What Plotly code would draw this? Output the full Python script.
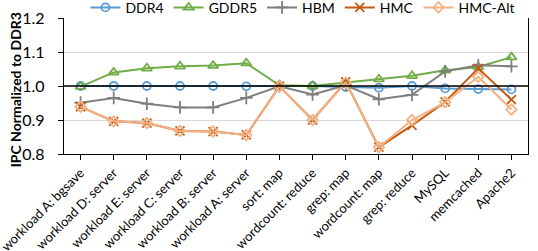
import plotly.graph_objects as go

categories = ["workload A: bgsave", "workload D: server", "workload E: server",
              "workload C: server", "workload B: server", "workload A: server",
              "sort: map", "wordcount: reduce", "grep: map", "wordcount: map",
              "grep: reduce", "MySQL", "memcached", "Apache2"]

ddr4 = [1.0, 1.0, 1.0, 1.0, 1.0, 0.999, 1.0, 1.0, 0.997, 0.995, 1.0, 0.993, 0.991, 0.99]
gddr5 = [0.998, 1.04, 1.052, 1.058, 1.06, 1.067, 1.002, 1.0, 1.01, 1.02, 1.03, 1.046, 1.056, 1.085]
hbm = [0.951, 0.965, 0.948, 0.937, 0.937, 0.965, 0.999, 0.975, 1.002, 0.961, 0.974, 1.043, 1.061, 1.058]
hmc = [0.939, 0.896, 0.891, 0.868, 0.866, 0.856, 0.999, 0.9, 1.012, 0.82, 0.884, 0.953, 1.052, 0.96]
hmc_alt = [0.939, 0.896, 0.891, 0.868, 0.866, 0.856, 0.999, 0.9, 1.01, 0.82, 0.9, 0.952, 1.027, 0.931]

y_ticks = [0.8, 0.9, 1.0, 1.1, 1.2]
y_tick_text = ["0.8", "0.9", "1.0", "1.1", "1.2"]

series = [
    ("DDR4", ddr4, "#5B9BD5", "circle-open", 8),
    ("GDDR5", gddr5, "#70AD47", "triangle-up-open", 9),
    ("HBM", hbm, "#7F7F7F", "cross-thin-open", 9),
    ("HMC", hmc, "#C55A11", "x-thin-open", 9),
    ("HMC-Alt", hmc_alt, "#F4B183", "diamond-open", 8),
]

FONT = "Lato"

fig = go.Figure()
for name, vals, color, sym, size in series:
    fig.add_trace(go.Scatter(
        x=list(range(len(categories))), y=vals, name=name, mode="lines+markers",
        line=dict(color=color, width=2),
        marker=dict(symbol=sym, size=size, color=color, line=dict(color=color, width=1.8)),
    ))

fig.add_shape(type="line", xref="paper", x0=0, x1=1, yref="y", y0=1.0, y1=1.0,
              line=dict(color="black", width=1.3), layer="above")

fig.update_layout(
    width=538, height=251,
    margin=dict(l=64, r=10, t=18, b=97, pad=0, autoexpand=False),
    paper_bgcolor="white", plot_bgcolor="white",
    font=dict(family=FONT, color="black"),
    showlegend=True,
    legend=dict(orientation="h", x=0.515, xanchor="center",
                y=1.075, yanchor="middle",
                font=dict(size=14, family=FONT), itemwidth=30,
                bgcolor="rgba(0,0,0,0)", tracegroupgap=0),
    xaxis=dict(
        tickmode="array", tickvals=list(range(len(categories))), ticktext=categories,
        tickangle=-45, range=[-0.5, len(categories) - 0.5], automargin=False,
        ticklabeloverflow="allow",
        showline=True, linecolor="black", linewidth=1.3, ticks="outside",
        ticklen=5, tickcolor="black", showgrid=False, zeroline=False,
        tickfont=dict(size=13, family=FONT),
    ),
    yaxis=dict(
        range=[0.8, 1.2], tickmode="array", tickvals=y_ticks, ticktext=y_tick_text,
        showline=True, linecolor="black", linewidth=1.3, mirror=True, automargin=False,
        ticks="outside", ticklen=5, tickcolor="black",
        showgrid=True, gridcolor="#D9D9D9", gridwidth=1, zeroline=False,
        tickfont=dict(size=16, family=FONT), ticklabelstandoff=10,
    ),
)

fig.add_annotation(text="<b>IPC Normalized to DDR3</b>", xref="paper", yref="paper",
                   x=-0.105, y=0.47, xanchor="center", yanchor="middle",
                   textangle=-90, showarrow=False, font=dict(size=14, family=FONT))

fig.write_html("out.html", config={"displayModeBar": False},
               post_script="document.body.style.margin='0';document.body.style.overflow='hidden';")
